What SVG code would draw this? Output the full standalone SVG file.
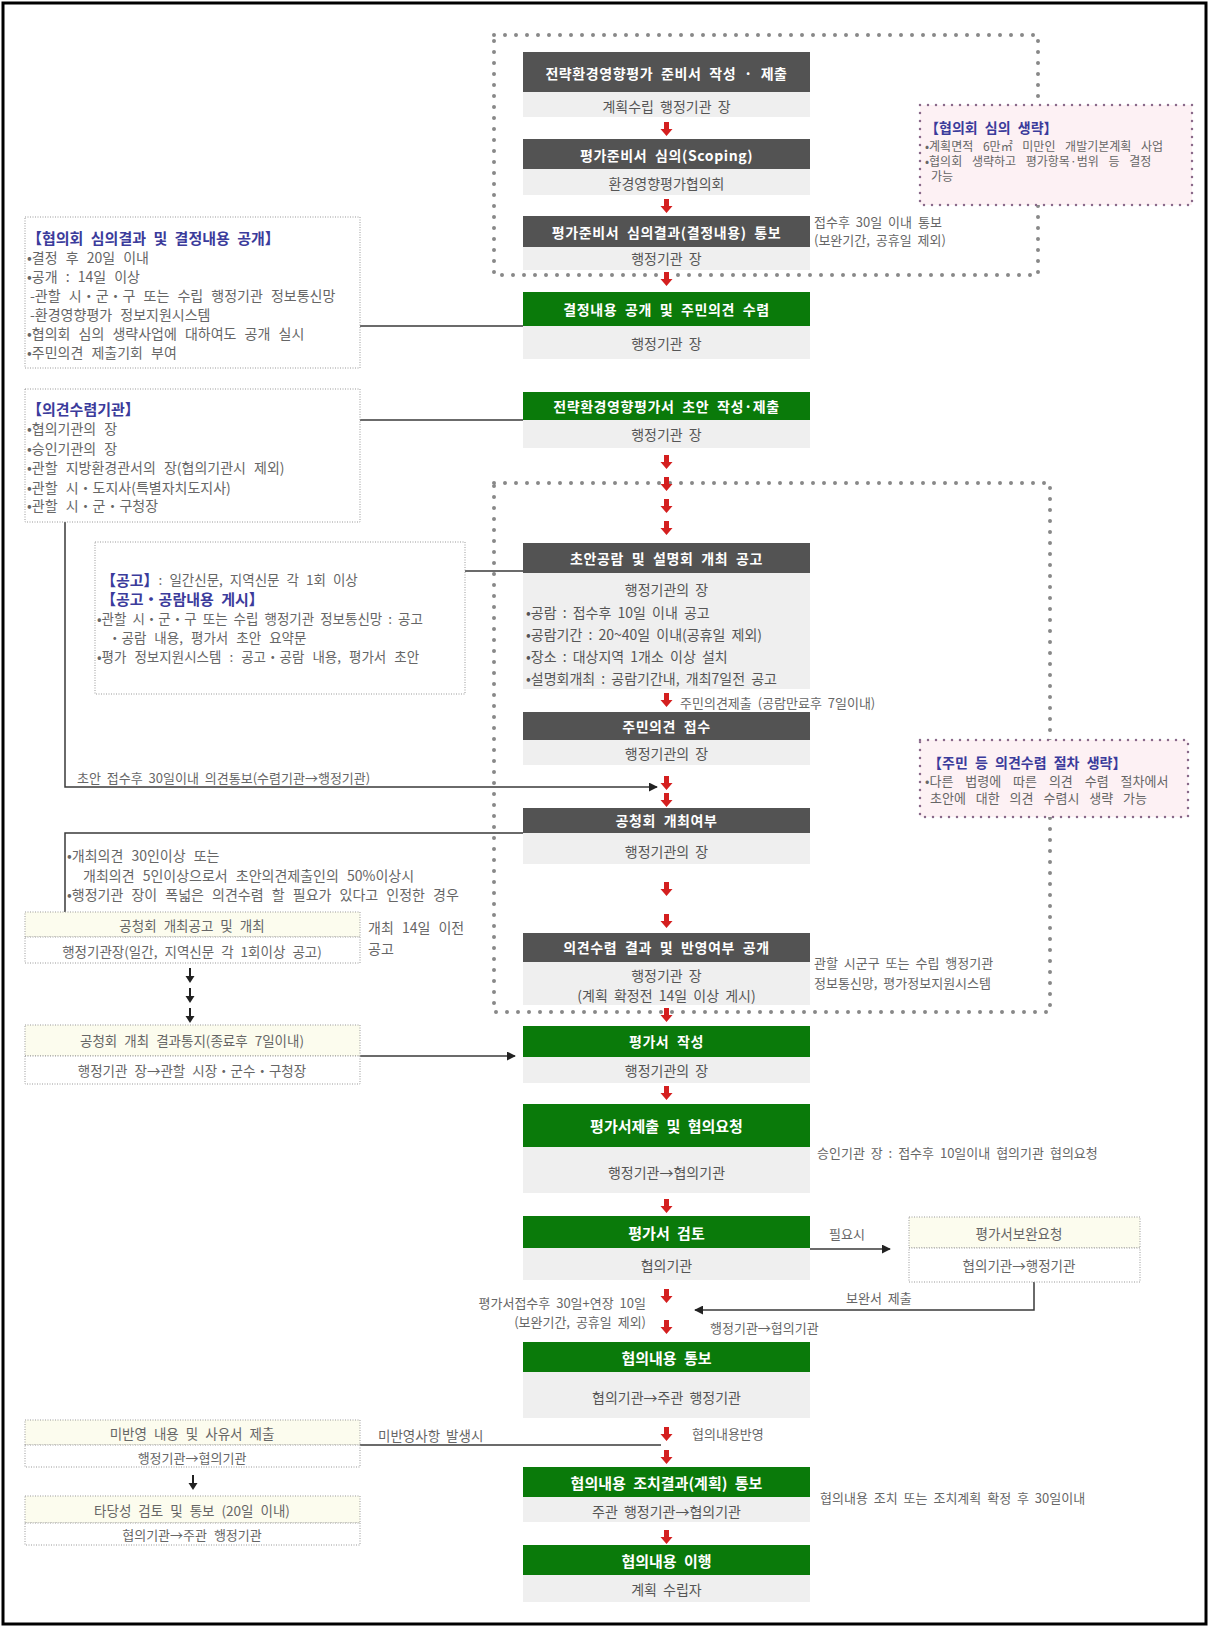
<svg xmlns="http://www.w3.org/2000/svg" width="1209" height="1627" viewBox="0 0 1209 1627">
<style>
text{font-family:'Noto Sans CJK KR','Noto Sans',sans-serif}
.hd{fill:#535353}
.gn{fill:#0a7a0a}
.sb{fill:#efefef}
.ht{font-size:14px;font-weight:bold;fill:#fff;text-anchor:middle;dominant-baseline:central;word-spacing:4px;letter-spacing:0.6px}
.hb{font-size:15px;font-weight:bold;fill:#fff;text-anchor:middle;dominant-baseline:central;word-spacing:4px}
.st{font-size:14px;fill:#555;text-anchor:middle;dominant-baseline:central;word-spacing:3px}
.sl{font-size:14px;fill:#555;dominant-baseline:central;word-spacing:3px}
.lt{font-size:14px;fill:#666;dominant-baseline:central;word-spacing:5px}
.lc{font-size:13.5px;fill:#666;dominant-baseline:central;word-spacing:4px;text-anchor:middle}
.tt{font-size:15px;font-weight:bold;fill:#3b3b9b;dominant-baseline:central;word-spacing:4px}
.pt{font-size:12px;fill:#666;dominant-baseline:central;word-spacing:7px}
.sd{font-size:13px;fill:#666;dominant-baseline:central;word-spacing:3px}
.dot{fill:none;stroke:#888;stroke-width:4;stroke-dasharray:0 11;stroke-linecap:round}
.pk{fill:#fdf1f4;stroke:#8a6a8a;stroke-width:2.5;stroke-dasharray:0 8;stroke-linecap:round}
.bx{fill:#fff;stroke:#999;stroke-width:1;stroke-dasharray:1 1.5}
.yl{fill:#fcfcee;stroke:#999;stroke-width:1;stroke-dasharray:1 1.5}
.ln{fill:none;stroke:#3a3a3a;stroke-width:1.5}
</style>
<defs>
<path id="ra" d="M-2.5 0H2.5V7H6L0 14L-6 7H-2.5Z" fill="#d41f1f"/>
<g id="ba"><line x1="0" y1="0" x2="0" y2="9" stroke="#222" stroke-width="2"/><path d="M-4.5 8H4.5L0 15Z" fill="#222"/></g>
<marker id="ah" viewBox="0 0 10 10" refX="9" refY="5" markerWidth="9" markerHeight="9" markerUnits="userSpaceOnUse" orient="auto"><path d="M0 0L10 5L0 10Z" fill="#222"/></marker>
</defs>
<rect width="1209" height="1627" fill="#fff"/>
<rect x="3" y="3" width="1203" height="1621" fill="none" stroke="#000" stroke-width="3"/>

<!-- dotted frames -->
<rect class="dot" x="494" y="35" width="544" height="240"/>
<rect class="dot" x="494" y="483" width="556" height="529"/>

<g id="connectors">
<polyline class="ln" points="360,326 523,326"/>
<polyline class="ln" points="360,420 523,420"/>
<polyline class="ln" points="465,571 523,571"/>
<polyline class="ln" points="65,522 65,787 657,787" marker-end="url(#ah)"/>
<polyline class="ln" points="523,833 65,833 65,912"/>
<polyline class="ln" points="360,1056 515,1056" marker-end="url(#ah)"/>
<polyline class="ln" points="810,1249 890,1249" marker-end="url(#ah)"/>
<polyline class="ln" points="1034,1282 1034,1310 695,1310" marker-end="url(#ah)"/>
<polyline class="ln" points="360,1445 661,1445"/>
<use href="#ba" x="190" y="968"/>
<use href="#ba" x="190" y="988"/>
<use href="#ba" x="190" y="1008"/>
<use href="#ba" x="193" y="1475"/>
<use href="#ra" x="666.5" y="122"/>
<use href="#ra" x="666.5" y="199"/>
<use href="#ra" x="666.5" y="272"/>
<use href="#ra" x="666.5" y="455"/>
<use href="#ra" x="666.5" y="477"/>
<use href="#ra" x="666.5" y="499"/>
<use href="#ra" x="666.5" y="521"/>
<use href="#ra" x="666.5" y="693"/>
<use href="#ra" x="666.5" y="776"/>
<use href="#ra" x="666.5" y="793"/>
<use href="#ra" x="666.5" y="882"/>
<use href="#ra" x="666.5" y="914"/>
<use href="#ra" x="666.5" y="1008"/>
<use href="#ra" x="666.5" y="1086"/>
<use href="#ra" x="666.5" y="1199"/>
<use href="#ra" x="666.5" y="1289"/>
<use href="#ra" x="666.5" y="1320"/>
<use href="#ra" x="666.5" y="1427"/>
<use href="#ra" x="666.5" y="1450"/>
<use href="#ra" x="666.5" y="1530"/>
<text class="sd" x="680" y="702">주민의견제출 (공람만료후 7일이내)</text>
<text class="sd" x="77" y="777">초안 접수후 30일이내 의견통보(수렴기관→행정기관)</text>
<text class="sd" x="829" y="1233">필요시</text>
<text class="sd" x="846" y="1297">보완서 제출</text>
<text class="sd" x="710" y="1327">행정기관→협의기관</text>
<text class="sd" x="646" y="1302" text-anchor="end">평가서접수후 30일+연장 10일</text>
<text class="sd" x="646" y="1321" text-anchor="end">(보완기간, 공휴일 제외)</text>
<text class="sd" x="692" y="1433">협의내용반영</text>
<text class="sd" x="378" y="1435" style="font-size:13.5px">미반영사항 발생시</text>
</g>

<!-- central column -->
<g id="n1">
<rect class="hd" x="523" y="52" width="287" height="40"/><rect class="sb" x="523" y="92" width="287" height="25"/>
<text class="ht" x="666.5" y="73">전략환경영향평가 준비서 작성 · 제출</text>
<text class="st" x="666.5" y="106">계획수립 행정기관 장</text>
</g>
<g id="n2">
<rect class="hd" x="523" y="139" width="287" height="30"/><rect class="sb" x="523" y="169" width="287" height="26"/>
<text class="ht" x="666.5" y="155">평가준비서 심의(Scoping)</text>
<text class="st" x="666.5" y="183">환경영향평가협의회</text>
</g>
<g id="n3">
<rect class="hd" x="523" y="216" width="287" height="31"/><rect class="sb" x="523" y="247" width="287" height="23"/>
<text class="ht" x="666.5" y="232">평가준비서 심의결과(결정내용) 통보</text>
<text class="st" x="666.5" y="258">행정기관 장</text>
<text class="sd" x="814" y="221">접수후 30일 이내 통보</text>
<text class="sd" x="814" y="239">(보완기간, 공휴일 제외)</text>
</g>
<g id="n4">
<rect class="gn" x="523" y="292" width="287" height="34"/><rect class="sb" x="523" y="326" width="287" height="33"/>
<text class="ht" x="666.5" y="309">결정내용 공개 및 주민의견 수렴</text>
<text class="st" x="666.5" y="343">행정기관 장</text>
</g>
<g id="n5">
<rect class="gn" x="523" y="392" width="287" height="28"/><rect class="sb" x="523" y="420" width="287" height="28"/>
<text class="ht" x="666.5" y="406">전략환경영향평가서 초안 작성·제출</text>
<text class="st" x="666.5" y="434">행정기관 장</text>
</g>
<g id="n6">
<rect class="hd" x="523" y="543" width="287" height="30"/><rect class="sb" x="523" y="573" width="287" height="116"/>
<text class="ht" x="666.5" y="558">초안공람 및 설명회 개최 공고</text>
<text class="st" x="666.5" y="589">행정기관의 장</text>
<text class="sl" x="526" y="612">•공람 : 접수후 10일 이내 공고</text>
<text class="sl" x="526" y="634">•공람기간 : 20~40일 이내(공휴일 제외)</text>
<text class="sl" x="526" y="656">•장소 : 대상지역 1개소 이상 설치</text>
<text class="sl" x="526" y="678">•설명회개최 : 공람기간내, 개최7일전 공고</text>
</g>
<g id="n7">
<rect class="hd" x="523" y="712" width="287" height="28"/><rect class="sb" x="523" y="740" width="287" height="25"/>
<text class="ht" x="666.5" y="726">주민의견 접수</text>
<text class="st" x="666.5" y="753">행정기관의 장</text>
</g>
<g id="n8">
<rect class="hd" x="523" y="808" width="287" height="25"/><rect class="sb" x="523" y="833" width="287" height="31"/>
<text class="ht" x="666.5" y="820">공청회 개최여부</text>
<text class="st" x="666.5" y="851">행정기관의 장</text>
</g>
<g id="n9">
<rect class="hd" x="523" y="933" width="287" height="29"/><rect class="sb" x="523" y="962" width="287" height="43"/>
<text class="ht" x="666.5" y="947">의견수렴 결과 및 반영여부 공개</text>
<text class="st" x="666.5" y="975">행정기관 장</text>
<text class="st" x="666.5" y="995">(계획 확정전 14일 이상 게시)</text>
<text class="sd" x="814" y="962">관할 시군구 또는 수립 행정기관</text>
<text class="sd" x="814" y="982">정보통신망, 평가정보지원시스템</text>
</g>
<g id="n10">
<rect class="gn" x="523" y="1026" width="287" height="31"/><rect class="sb" x="523" y="1057" width="287" height="26"/>
<text class="ht" x="666.5" y="1041">평가서 작성</text>
<text class="st" x="666.5" y="1070">행정기관의 장</text>
</g>
<g id="n11">
<rect class="gn" x="523" y="1104" width="287" height="43"/><rect class="sb" x="523" y="1147" width="287" height="46"/>
<text class="hb" x="666.5" y="1125">평가서제출 및 협의요청</text>
<text class="st" x="666.5" y="1172">행정기관→협의기관</text>
<text class="sd" x="817" y="1152">승인기관 장 : 접수후 10일이내 협의기관 협의요청</text>
</g>
<g id="n12">
<rect class="gn" x="523" y="1216" width="287" height="32"/><rect class="sb" x="523" y="1248" width="287" height="32"/>
<text class="hb" x="666.5" y="1232">평가서 검토</text>
<text class="st" x="666.5" y="1265">협의기관</text>
</g>
<g id="n13">
<rect class="gn" x="523" y="1342" width="287" height="30"/><rect class="sb" x="523" y="1372" width="287" height="46"/>
<text class="hb" x="666.5" y="1357">협의내용 통보</text>
<text class="st" x="666.5" y="1397">협의기관→주관 행정기관</text>
</g>
<g id="n14">
<rect class="gn" x="523" y="1467" width="287" height="30"/><rect class="sb" x="523" y="1497" width="287" height="25"/>
<text class="hb" x="666.5" y="1482">협의내용 조치결과(계획) 통보</text>
<text class="st" x="666.5" y="1511">주관 행정기관→협의기관</text>
<text class="sd" x="820" y="1497">협의내용 조치 또는 조치계획 확정 후 30일이내</text>
</g>
<g id="n15">
<rect class="gn" x="523" y="1545" width="287" height="30"/><rect class="sb" x="523" y="1575" width="287" height="27"/>
<text class="hb" x="666.5" y="1560">협의내용 이행</text>
<text class="st" x="666.5" y="1589">계획 수립자</text>
</g>

<!-- right boxes -->
<g id="pink1">
<rect class="pk" x="920" y="105" width="272" height="100"/>
<text class="tt" x="925" y="127" style="font-size:14px">【협의회 심의 생략】</text>
<text class="pt" x="925" y="145">•계획면적 6만㎡ 미만인 개발기본계획 사업</text>
<text class="pt" x="925" y="160">•협의회 생략하고 평가항목·범위 등 결정</text>
<text class="pt" x="931" y="175">가능</text>
</g>
<g id="pink2">
<rect class="pk" x="920" y="740" width="268" height="77"/>
<text class="tt" x="928" y="762" style="font-size:14px">【주민 등 의견수렴 절차 생략】</text>
<text class="pt" x="925" y="780" style="font-size:13px;word-spacing:9px">•다른 법령에 따른 의견 수렴 절차에서</text>
<text class="pt" x="930" y="797" style="font-size:13px;word-spacing:7px">초안에 대한 의견 수렴시 생략 가능</text>
</g>
<g id="boxH">
<rect class="yl" x="909" y="1217" width="231" height="31"/><rect class="bx" x="909" y="1248" width="231" height="34"/>
<text class="lc" x="1019" y="1233">평가서보완요청</text>
<text class="lc" x="1019" y="1265">협의기관→행정기관</text>
</g>

<!-- left boxes -->
<g id="boxA">
<rect class="bx" x="25" y="217" width="335" height="151"/>
<text class="tt" x="27" y="237">【협의회 심의결과 및 결정내용 공개】</text>
<text class="lt" x="27" y="257">•결정 후 20일 이내</text>
<text class="lt" x="27" y="276">•공개 : 14일 이상</text>
<text class="lt" x="30" y="295">-관할 시・군・구 또는 수립 행정기관 정보통신망</text>
<text class="lt" x="30" y="314">-환경영향평가 정보지원시스템</text>
<text class="lt" x="27" y="333">•협의회 심의 생략사업에 대하여도 공개 실시</text>
<text class="lt" x="27" y="352">•주민의견 제출기회 부여</text>
</g>
<g id="boxB">
<rect class="bx" x="25" y="389" width="335" height="133"/>
<text class="tt" x="27" y="408">【의견수렴기관】</text>
<text class="lt" x="27" y="428">•협의기관의 장</text>
<text class="lt" x="27" y="448">•승인기관의 장</text>
<text class="lt" x="27" y="467">•관할 지방환경관서의 장(협의기관시 제외)</text>
<text class="lt" x="27" y="487">•관할 시・도지사(특별자치도지사)</text>
<text class="lt" x="27" y="505">•관할 시・군・구청장</text>
</g>
<g id="boxC">
<rect class="bx" x="95" y="542" width="370" height="152"/>
<text class="tt" x="101" y="579">【공고】<tspan style="font-weight:normal;fill:#666;font-size:13.5px">: 일간신문, 지역신문 각 1회 이상</tspan></text>
<text class="tt" x="101" y="598">【공고・공람내용 게시】</text>
<text class="lt" x="97" y="618" style="font-size:13.5px;word-spacing:3px">•관할 시・군・구 또는 수립 행정기관 정보통신망 : 공고</text>
<text class="lt" x="108" y="637" style="font-size:13.5px">・공람 내용, 평가서 초안 요약문</text>
<text class="lt" x="97" y="656" style="font-size:13.5px">•평가 정보지원시스템 : 공고・공람 내용, 평가서 초안</text>
</g>
<g id="cond">
<text class="lt" x="67" y="855">•개최의견 30인이상 또는</text>
<text class="lt" x="83" y="875">개최의견 5인이상으로서 초안의견제출인의 50%이상시</text>
<text class="lt" x="67" y="894">•행정기관 장이 폭넓은 의견수렴 할 필요가 있다고 인정한 경우</text>
</g>
<g id="boxD">
<rect class="yl" x="25" y="912" width="335" height="25"/><rect class="bx" x="25" y="937" width="335" height="26"/>
<text class="lc" x="192" y="925">공청회 개최공고 및 개최</text>
<text class="lc" x="192" y="951">행정기관장(일간, 지역신문 각 1회이상 공고)</text>
<text class="lt" x="368" y="927">개최 14일 이전</text>
<text class="lt" x="368" y="948">공고</text>
</g>
<g id="boxE">
<rect class="yl" x="25" y="1025" width="335" height="31"/><rect class="bx" x="25" y="1056" width="335" height="28"/>
<text class="lc" x="192" y="1040">공청회 개최 결과통지(종료후 7일이내)</text>
<text class="lc" x="192" y="1070">행정기관 장→관할 시장・군수・구청장</text>
</g>
<g id="boxF">
<rect class="yl" x="25" y="1420" width="335" height="25"/><rect class="bx" x="25" y="1445" width="335" height="22"/>
<text class="lc" x="192" y="1433">미반영 내용 및 사유서 제출</text>
<text class="lc" x="192" y="1457" style="font-size:13px">행정기관→협의기관</text>
</g>
<g id="boxG">
<rect class="yl" x="25" y="1496" width="335" height="27"/><rect class="bx" x="25" y="1523" width="335" height="22"/>
<text class="lc" x="192" y="1510">타당성 검토 및 통보 (20일 이내)</text>
<text class="lc" x="192" y="1534" style="font-size:13px">협의기관→주관 행정기관</text>
</g>
</svg>
